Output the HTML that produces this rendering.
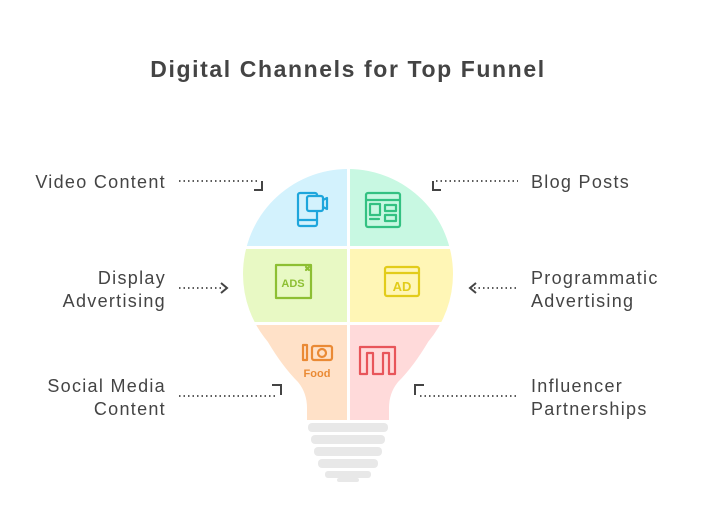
<!DOCTYPE html>
<html><head><style>
body{margin:0;background:#fff;}
svg{display:block;}
text{font-family:"Liberation Sans",sans-serif;fill:#444;}
</style></head><body>
<svg width="708" height="531" viewBox="0 0 708 531">
<defs>
<clipPath id="bulb">
<circle cx="348" cy="274" r="105"/>
<path d="M256,320 L440,320 Q420,360 398,382 Q389,393 389,408 L389,420 L307,420 L307,408 Q307,393 298,382 Q276,360 256,320 Z"/>
</clipPath>
</defs>
<text x="348" y="77" text-anchor="middle" font-size="23" font-weight="bold" letter-spacing="1.6">Digital Channels for Top Funnel</text>

<g clip-path="url(#bulb)">
<rect x="230" y="160" width="117" height="86" fill="#d3f2fd"/>
<rect x="350" y="160" width="120" height="86" fill="#c8f8e2"/>
<rect x="230" y="249" width="117" height="73" fill="#e8f9c4"/>
<rect x="350" y="249" width="120" height="73" fill="#fff6b6"/>
<rect x="230" y="325" width="117" height="100" fill="#ffe1c8"/>
<rect x="350" y="325" width="120" height="100" fill="#ffdada"/>
</g>
<g fill="#e8e8e8">
<rect x="308" y="423" width="80" height="9" rx="4"/>
<rect x="311" y="435" width="74" height="9" rx="4"/>
<rect x="314" y="447" width="68" height="9" rx="4"/>
<rect x="318" y="459" width="60" height="9" rx="4"/>
<rect x="325" y="471" width="46" height="7" rx="3"/>
<rect x="337" y="478" width="22" height="4" rx="2"/>
</g>

<g fill="none" stroke-width="2.2" stroke-linecap="round" stroke-linejoin="round">
<g stroke="#1ea6dc">
<rect x="298" y="193" width="19" height="33" rx="2"/>
<line x1="298" y1="220" x2="317" y2="220"/>
<rect x="307" y="196" width="16" height="15" rx="2" fill="#d3f2fd"/>
<path d="M323,200 L327,198 L327,209 L323,207"/>
</g>
<g stroke="#33c182">
<rect x="366" y="193" width="34" height="34" rx="2"/>
<line x1="366" y1="200" x2="400" y2="200"/>
<rect x="370" y="204" width="10" height="11"/>
<rect x="385" y="205" width="11" height="6"/>
<rect x="385" y="215" width="11" height="6"/>
<line x1="370" y1="219" x2="379" y2="219"/>
</g>
<g stroke="#8dbf33">
<rect x="276" y="265" width="35" height="33"/>
<path d="M306,267 l3,3 M309,267 l-3,3"/>
</g>
<text x="293" y="287" text-anchor="middle" font-size="11" font-weight="bold" style="fill:#8dbf33">ADS</text>
<g stroke="#e2cc1a">
<rect x="385" y="267" width="34" height="29" rx="2"/>
<line x1="385" y1="273" x2="419" y2="273"/>
</g>
<text x="402" y="291" text-anchor="middle" font-size="13" font-weight="bold" style="fill:#e2cc1a">AD</text>
<g stroke="#ea8a35">
<rect x="303" y="345" width="4" height="15"/>
<rect x="312" y="346" width="20" height="14" rx="2"/>
<circle cx="322" cy="353" r="4"/>
</g>
<text x="317" y="377" text-anchor="middle" font-size="11" font-weight="bold" style="fill:#ea8a35">Food</text>
<path d="M360,374 L360,347 L395,347 L395,374 L389,374 L389,353 L383,353 L383,374 L373,374 L373,353 L367,353 L367,374 Z" fill="none" stroke="#e8555a" stroke-width="2.2"/>
</g>

<g stroke="#444" stroke-width="1.8" fill="none" stroke-dasharray="1.5 3">
<line x1="179" y1="181" x2="258" y2="181"/>
<line x1="436" y1="181" x2="518" y2="181"/>
<line x1="179" y1="288" x2="222" y2="288"/>
<line x1="474" y1="288" x2="518" y2="288"/>
<line x1="179" y1="396" x2="275" y2="396"/>
<line x1="420" y1="396" x2="518" y2="396"/>
</g>
<g stroke="#444" stroke-width="2" fill="none">
<path d="M262,181 L262,190 L254,190"/>
<path d="M433,181 L433,190 L441,190"/>
<path d="M221,283 L227,288 L221,293"/>
<path d="M476,283 L470,288 L476,293"/>
<path d="M272,385 L281,385 L281,395"/>
<path d="M424,385 L415,385 L415,395"/>
</g>

<g font-size="18" letter-spacing="1.3">
<text x="166" y="188" text-anchor="end">Video Content</text>
<text x="166" y="284" text-anchor="end">Display</text>
<text x="166" y="307" text-anchor="end">Advertising</text>
<text x="166" y="392" text-anchor="end">Social Media</text>
<text x="166" y="415" text-anchor="end">Content</text>
<text x="531" y="188">Blog Posts</text>
<text x="531" y="284">Programmatic</text>
<text x="531" y="307">Advertising</text>
<text x="531" y="392">Influencer</text>
<text x="531" y="415">Partnerships</text>
</g>
</svg>
</body></html>
